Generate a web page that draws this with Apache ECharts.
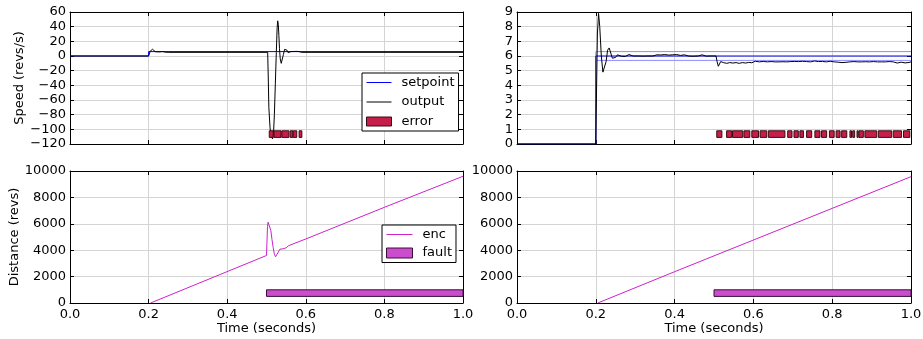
<!DOCTYPE html>
<html>
<head>
<meta charset="utf-8">
<script src="https://cdn.jsdelivr.net/npm/echarts@6/dist/echarts.min.js"></script>
<style>html,body{margin:0;padding:0;background:#fff}#c{width:923px;height:339px}</style>
</head>
<body>
<div id="c"></div>
<script>
// ---------- DATA ----------
// Top-left panel (Speed, large disturbance)
const tlSetpoint = [[0,0],[0.2,0],[0.2,6],[1,6]];
const tlOutput = [[0,0],[0.2,0],[0.2015,2.5],[0.204,6.5],[0.207,8.8],[0.21,9.2],[0.213,8.0],[0.217,5.9],[0.221,5.0],[0.226,5.6],[0.231,6.3],[0.236,6.0],[0.242,5.3],[0.25,5.0],[0.503,5],[0.5045,-30],[0.506,-70],[0.509,-98],[0.512,-110],[0.5155,-113],[0.518,-104],[0.520,-80],[0.5225,-38],[0.525,5],[0.527,38],[0.5285,48],[0.530,43],[0.5315,28],[0.533,10],[0.535,-4],[0.5375,-10],[0.540,-8],[0.543,2],[0.546,9],[0.549,11.5],[0.552,8],[0.555,4.5],[0.558,3.5],[0.562,6],[0.566,7],[0.570,6.2],[0.575,5.5],[0.58,6.3],[0.59,5],[1,5]];
const tlErrorSpans = [[0.507,0.517],[0.519,0.537],[0.539,0.557],[0.560,0.567],[0.568,0.577],[0.583,0.590]];
const tlErrorY = [-111,-102];

// Top-right panel (Speed, small disturbance)
const trSetpoint = [[0,0],[0.2,0],[0.2,6],[1,6]];
const trBandUpper = [[0.2,0],[0.2,6.3],[1,6.3]];
const trBandLower = [[0.2,5.7],[1,5.7]];
const trOutput = [[0,0],[0.2,0],[0.2015,3],[0.204,7.5],[0.207,8.9],[0.21,8.0],[0.214,6.0],[0.218,4.9],[0.222,4.8],[0.226,5.6],[0.23,6.4],[0.234,6.55],[0.238,6.2],[0.242,5.85],[0.246,5.75],[0.25,5.9],[0.255,6.08],[0.26,6.12],[0.265,5.98],[0.27,6.0],[0.275,5.97],[0.28,6.0],[0.284,6.1],[0.288,5.99],[0.295,6.0],[0.31,6.0],[0.32,5.99],[0.325,6.1],[0.33,6.0],[0.345,6.0],[0.35,5.97],[0.355,6.08],[0.36,5.98],[0.365,6.07],[0.37,5.97],[0.375,6.1],[0.38,5.99],[0.385,6.06],[0.39,5.96],[0.395,6.08],[0.4,5.98],[0.405,6.1],[0.41,5.97],[0.415,6.04],[0.42,5.96],[0.425,6.08],[0.43,5.98],[0.435,6.0],[0.44,6.06],[0.445,5.98],[0.45,6.0],[0.46,6.0],[0.465,5.98],[0.47,6.08],[0.475,6.0],[0.48,5.99],[0.49,6.0],[0.505,6.0],[0.508,5.6],[0.511,5.3],[0.514,5.4],[0.517,5.62],[0.52,5.65],[0.524,5.55],[0.528,5.62],[0.532,5.5],[0.536,5.6],[0.54,5.55],[0.544,5.62],[0.548,5.52],[0.552,5.6],[0.556,5.55],[0.56,5.66],[0.564,5.5],[0.568,5.58],[0.572,5.55],[0.576,5.63],[0.58,5.52],[0.584,5.6],[0.588,5.56],[0.592,5.62],[0.596,5.54],[0.6,5.58],[0.605,5.64],[0.61,5.55],[0.615,5.6],[0.62,5.54],[0.625,5.63],[0.63,5.56],[0.635,5.6],[0.64,5.57],[0.645,5.62],[0.65,5.55],[0.655,5.6],[0.66,5.58],[0.665,5.6],[0.67,5.59],[0.675,5.61],[0.68,5.58],[0.685,5.6],[0.69,5.57],[0.695,5.62],[0.7,5.55],[0.705,5.63],[0.71,5.56],[0.715,5.62],[0.72,5.55],[0.725,5.64],[0.73,5.57],[0.735,5.62],[0.74,5.56],[0.745,5.6],[0.75,5.58],[0.755,5.66],[0.76,5.57],[0.765,5.62],[0.77,5.58],[0.775,5.63],[0.78,5.56],[0.785,5.6],[0.79,5.58],[0.795,5.64],[0.8,5.57],[0.805,5.6],[0.81,5.62],[0.815,5.58],[0.82,5.6],[0.825,5.55],[0.83,5.63],[0.835,5.57],[0.84,5.61],[0.845,5.6],[0.85,5.55],[0.855,5.62],[0.86,5.57],[0.865,5.6],[0.87,5.58],[0.875,5.6],[0.88,5.59],[0.885,5.61],[0.89,5.58],[0.895,5.6],[0.9,5.56],[0.905,5.62],[0.91,5.58],[0.915,5.6],[0.92,5.57],[0.925,5.6],[0.93,5.58],[0.935,5.6],[0.94,5.52],[0.945,5.62],[0.95,5.56],[0.955,5.6],[0.96,5.57],[0.965,5.52],[0.97,5.61],[0.975,5.58],[0.98,5.6],[0.985,5.53],[0.99,5.62],[0.995,5.56],[1.0,5.6]];
const trErrorSpans = [[0.507,0.520],[0.532,0.545],[0.547,0.573],[0.576,0.591],[0.596,0.613],[0.617,0.634],[0.638,0.680],[0.687,0.698],[0.703,0.714],[0.718,0.727],[0.735,0.748],[0.756,0.769],[0.773,0.786],[0.793,0.805],[0.810,0.820],[0.824,0.837],[0.845,0.849],[0.852,0.857],[0.863,0.866],[0.868,0.879],[0.883,0.913],[0.917,0.951],[0.955,0.976],[0.981,0.997]];
const trErrorY = [0.45,0.9];

// Bottom-left panel (Distance, with encoder fault)
const blEnc = [[0.205,0],[0.5,3600],[0.502,3640],[0.5025,5800],[0.504,6120],[0.506,6160],[0.508,6050],[0.511,5500],[0.514,4800],[0.517,4200],[0.52,3700],[0.523,3500],[0.526,3560],[0.53,3850],[0.534,4080],[0.538,4150],[0.542,4100],[0.546,4080],[0.55,4180],[0.556,4340],[0.6,4850],[0.8,7250],[1.0,9600]];
const blFaultSpans = [[0.5,1.0]];
const blFaultY = [500,1000];

// Bottom-right panel (Distance)
const brEnc = [[0.205,0],[0.4,2370],[0.6,4770],[0.8,7170],[1.0,9570]];
const brFaultSpans = [[0.5,1.0]];
const brFaultY = [500,1000];

// Axis ranges
const timeRange = [0, 1, 0.2];
const speedRangeTL = [-120, 60, 20];
const speedRangeTR = [0, 9, 1];
const distRange = [0, 10000, 2000];

// ---------- STYLE ----------
const FONT = 'DejaVu Sans';
const FS = 13;
const GRIDC = '#d4d4d4';
const C_SET = '#0000ff', C_BAND = '#8c8cff', C_OUT = '#000000';
const C_ERR = '#c61e48', C_ERR_EDGE = '#3a0a14';
const C_ENC = '#cc22cc', C_FAULT = '#cc4dcc', C_FAULT_EDGE = '#3a103a';

const grids = [
  {left:70, top:12, width:393, height:132},
  {left:517, top:12, width:394, height:132},
  {left:70, top:171, width:393, height:132},
  {left:517, top:171, width:394, height:132}
].map(g => Object.assign({outerBoundsMode:'none', containLabel:false, show:false}, g));

const lineAxis = {show:true, onZero:false, lineStyle:{color:'#000', width:1}};
const tick = {show:true, inside:true, length:4, lineStyle:{color:'#000', width:1}};
const fmtNum = v => String(v).replace('-', '\u2212');

function xAx(gi, showLabel, name) {
  const main = {
    type:'value', gridIndex:gi, position:'bottom', min:timeRange[0], max:timeRange[1], interval:timeRange[2],
    axisLine:lineAxis, axisTick:tick,
    splitLine:{show:true, lineStyle:{color:GRIDC, width:1}},
    axisLabel:{show:showLabel, fontSize:FS, fontFamily:FONT, color:'#000', margin:5, hideOverlap:false, formatter:v=>v.toFixed(1)},
  };
  if (name) Object.assign(main, {name:name, nameLocation:'middle', nameGap:18, nameTextStyle:{fontSize:FS, fontFamily:FONT, color:'#000'}});
  const top = {
    type:'value', gridIndex:gi, position:'top', min:timeRange[0], max:timeRange[1], interval:timeRange[2],
    axisLine:lineAxis, axisTick:tick, splitLine:{show:false}, axisLabel:{show:false}
  };
  return [main, top];
}
function yAx(gi, r, name, gap) {
  const main = {
    type:'value', gridIndex:gi, position:'left', min:r[0], max:r[1], interval:r[2],
    axisLine:lineAxis, axisTick:tick,
    splitLine:{show:true, lineStyle:{color:GRIDC, width:1}},
    axisLabel:{show:true, fontSize:FS, fontFamily:FONT, color:'#000', margin:4, hideOverlap:false, formatter:fmtNum},
  };
  if (name) Object.assign(main, {name:name, nameLocation:'middle', nameRotate:90, nameGap:gap, nameTextStyle:{fontSize:FS, fontFamily:FONT, color:'#000'}});
  const right = {
    type:'value', gridIndex:gi, position:'right', min:r[0], max:r[1], interval:r[2],
    axisLine:lineAxis, axisTick:tick, splitLine:{show:false}, axisLabel:{show:false}
  };
  return [main, right];
}

const xAxes = [].concat(xAx(0,false), xAx(1,false), xAx(2,true,'Time (seconds)'), xAx(3,true,'Time (seconds)'));
const yAxes = [].concat(yAx(0,speedRangeTL,'Speed (revs/s)',40), yAx(1,speedRangeTR), yAx(2,distRange,'Distance (revs)',47), yAx(3,distRange));

function line(name, gi, data, color, z) {
  return {type:'line', name:name, xAxisIndex:gi*2, yAxisIndex:gi*2, data:data, symbol:'none', showSymbol:false,
    lineStyle:{color:color, width:1}, itemStyle:{color:color}, animation:false, silent:true, z:z||2, clip:true};
}
function spans(name, gi, list, yr, fill, edge) {
  return {type:'custom', name:name, xAxisIndex:gi*2, yAxisIndex:gi*2, animation:false, silent:true, z:5,
    itemStyle:{color:fill, borderColor:edge, borderWidth:1},
    data:list.map(s => [s[0], s[1], yr[0], yr[1]]),
    encode:{x:[0,1], y:[2,3]},
    renderItem:function(params, api){
      const p0 = api.coord([api.value(0), api.value(3)]);
      const p1 = api.coord([api.value(1), api.value(2)]);
      return {type:'rect', shape:{x:p0[0], y:p0[1], width:p1[0]-p0[0], height:p1[1]-p0[1]},
        style:{fill:fill, stroke:edge, lineWidth:1}};
    }};
}

const LINE_ICON = 'path://M0,0H25V1H0Z';
const legendText = {fontSize:FS, fontFamily:FONT, color:'#000', padding:[0,0,0,5]};
const option = {
  backgroundColor:'#fff',
  animation:false,
  grid:grids,
  xAxis:xAxes,
  yAxis:yAxes,
  legend:[
    {orient:'vertical', left:362, top:73, padding:[3,4,3,4], itemGap:6.5, itemWidth:25, itemHeight:9,
     borderColor:'#000', borderWidth:1, borderRadius:0, backgroundColor:'#fff', selectedMode:false,
     textStyle:legendText, symbolKeepAspect:true,
     data:[{name:'setpoint', icon:LINE_ICON, itemStyle:{color:C_SET, borderWidth:0}},
           {name:'output', icon:LINE_ICON, itemStyle:{color:C_OUT, borderWidth:0}},
           {name:'error', icon:'rect', itemStyle:{color:C_ERR, borderColor:C_ERR_EDGE, borderWidth:1}}]},
    {orient:'vertical', left:382, top:225, padding:[3,4,3,4], itemGap:5.5, itemWidth:26, itemHeight:10,
     borderColor:'#000', borderWidth:1, borderRadius:0, backgroundColor:'#fff', selectedMode:false,
     textStyle:legendText, symbolKeepAspect:true,
     data:[{name:'enc', icon:LINE_ICON, itemStyle:{color:C_ENC, borderWidth:0}},
           {name:'fault', icon:'rect', itemStyle:{color:C_FAULT, borderColor:C_FAULT_EDGE, borderWidth:1}}]}
  ],
  series:[
    line('setpoint', 0, tlSetpoint, C_SET, 2),
    line('output', 0, tlOutput, C_OUT, 3),
    spans('error', 0, tlErrorSpans, tlErrorY, C_ERR, C_ERR_EDGE),
    line('band', 1, trBandUpper, C_BAND, 2),
    line('band', 1, trBandLower, C_BAND, 2),
    line('setpoint', 1, trSetpoint, C_SET, 3),
    line('output', 1, trOutput, C_OUT, 4),
    spans('error', 1, trErrorSpans, trErrorY, C_ERR, C_ERR_EDGE),
    line('enc', 2, blEnc, C_ENC, 2),
    spans('fault', 2, blFaultSpans, blFaultY, C_FAULT, C_FAULT_EDGE),
    line('enc', 3, brEnc, C_ENC, 2),
    spans('fault', 3, brFaultSpans, brFaultY, C_FAULT, C_FAULT_EDGE)
  ]
};
const chart = echarts.init(document.getElementById('c'), null, {renderer:'canvas'});
chart.setOption(option);
</script>
</body>
</html>
